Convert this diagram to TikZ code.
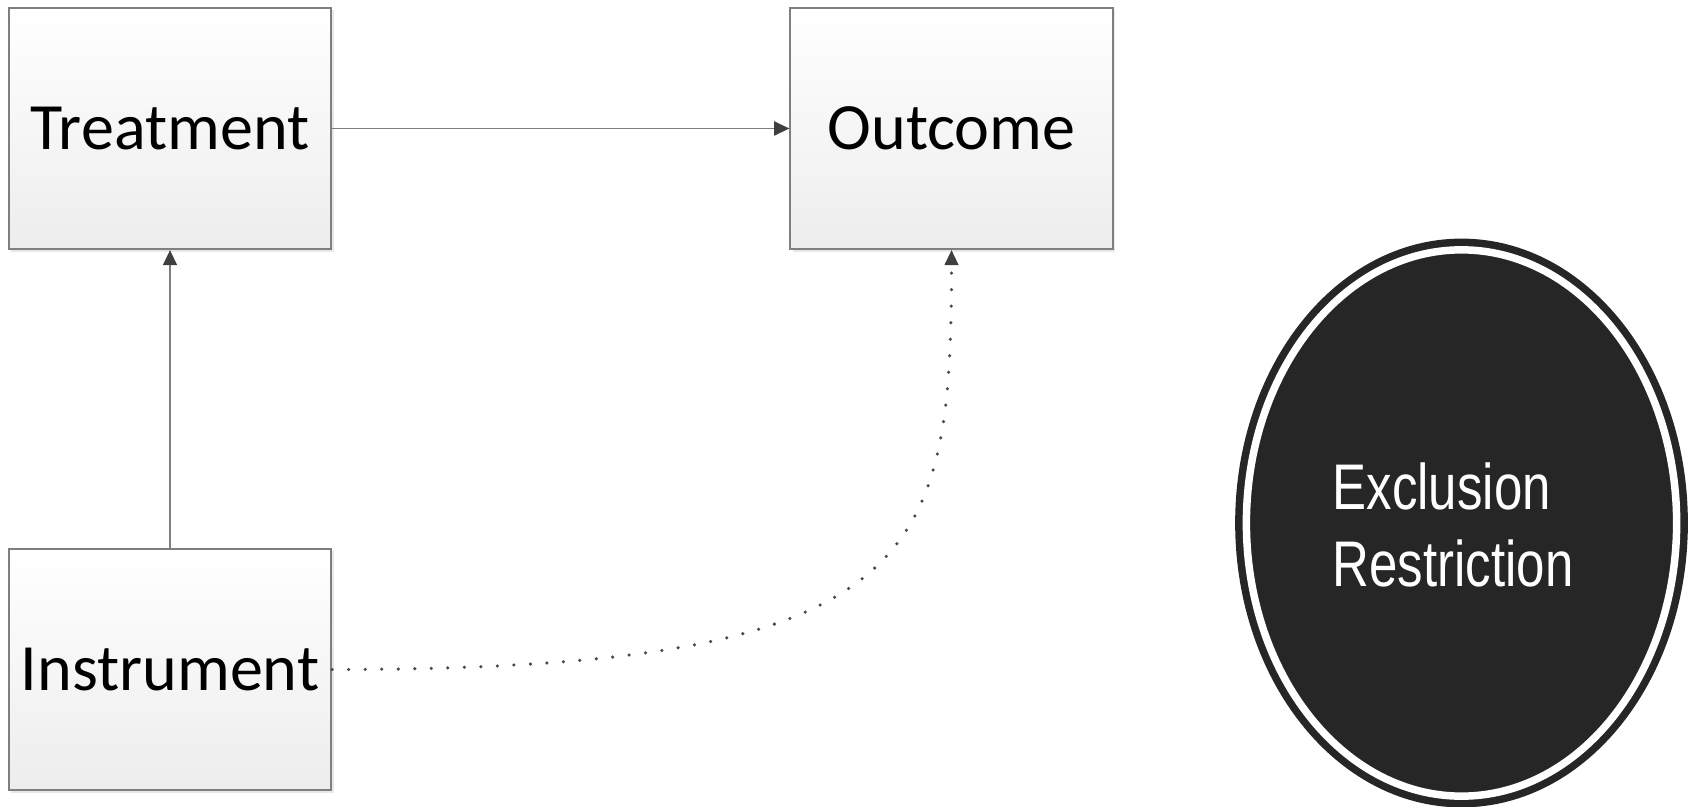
\documentclass[tikz,border=0pt]{standalone}
\usepackage{fontspec}
\setmainfont{Carlito}
\newfontfamily\exclfont[FakeStretch=0.79]{Liberation Sans}
\usepackage{tikz}
\usetikzlibrary{arrows.meta}
\usetikzlibrary{shapes.geometric}
\usetikzlibrary{shadows}
\definecolor{boxline}{HTML}{7F7F7F}
\definecolor{boxbot}{HTML}{EDEDED}
\definecolor{tipgray}{HTML}{404040}
\definecolor{dotgray}{HTML}{4A4A4A}
\definecolor{circfill}{HTML}{262626}
\tikzset{var/.style={rectangle, draw=boxline, line width=0.6pt,
    top color=white, bottom color=boxbot,
    minimum width=3.22cm, minimum height=2.41cm, inner sep=0pt,
    font=\fontsize{18.8pt}{22pt}\selectfont,
    drop shadow={opacity=0.18, shadow xshift=0.7pt, shadow yshift=-0.7pt}}}
\tikzset{link/.style={draw=boxline, line width=0.45pt,
    -{Triangle[length=4.3pt, width=4pt, color=tipgray]}}}
\tikzset{excl/.style={dash pattern=on 0pt off 4.7pt, line cap=round,
    line width=1pt, draw=dotgray,
    -{Triangle[length=4.3pt, width=4pt, color=tipgray, line width=0.45pt]}}}
\tikzset{restr/.style={ellipse, draw=circfill, fill=circfill, line width=2.13pt,
    double=white, double distance=2.13pt,
    minimum width=4.3cm, minimum height=5.46cm, inner sep=0pt}}

\begin{document}
\begin{tikzpicture}[x=0.01cm, y=-0.01cm]
        \useasboundingbox (0,0) rectangle (1692,807);

                    \node[var] (T) at (170,128.5) {Treatment};
                    \node[var] (O) at (951.5,128.5) {Outcome};
                    \node[var] (I) at (170,669.5) {Instrument};

                    \node[restr] (R) at (1461.5,523) {};
                    \node[text=white, align=left, inner sep=0pt,
                        font=\exclfont\fontsize{18.35pt}{21.9pt}\selectfont] (L) at (1453,525) {Exclusion\\Restriction};

                    \draw[link] (T) -- (O);
                    \draw[link] (I) -- (T);
                    \draw[excl] (I.east) .. controls +(589,0) and +(0,311) .. (O.south);

                \end{tikzpicture}
\end{document}
